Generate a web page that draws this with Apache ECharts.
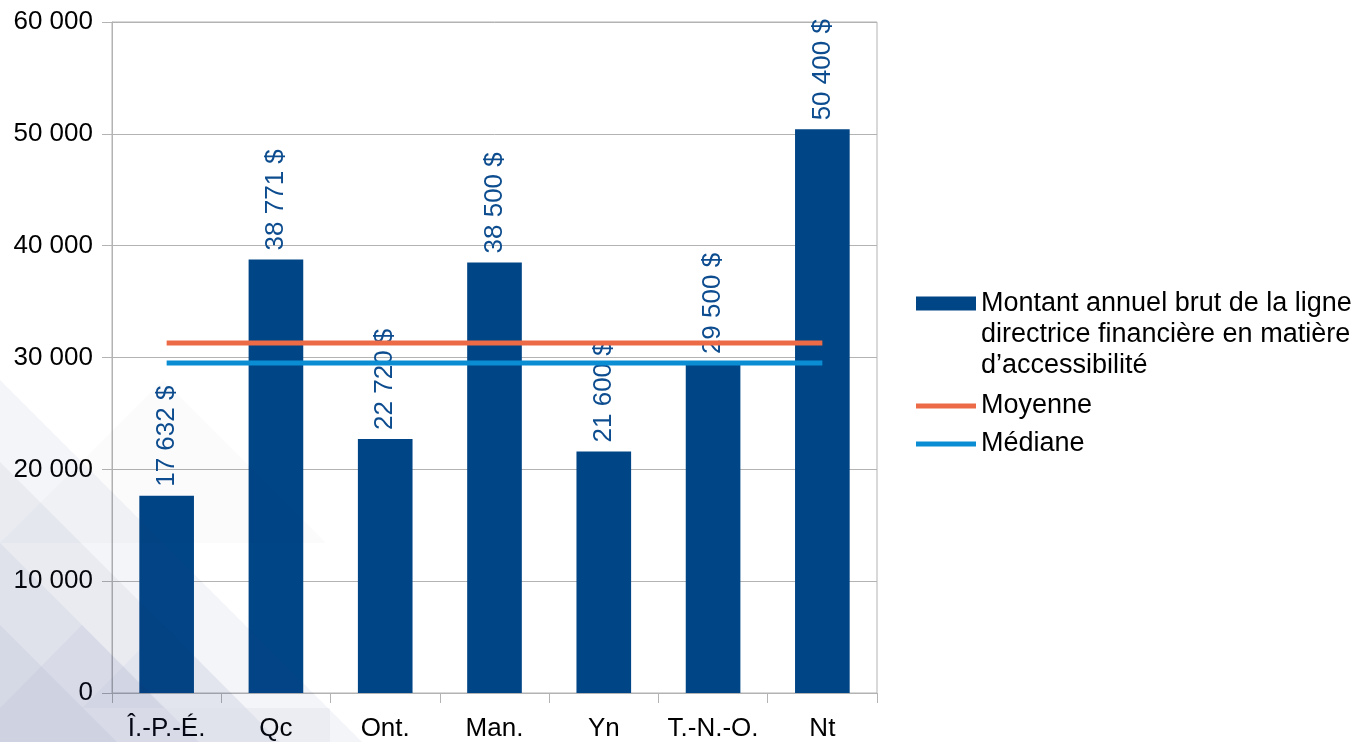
<!DOCTYPE html>
<html>
<head>
<meta charset="utf-8">
<script src="https://cdn.jsdelivr.net/npm/echarts@6/dist/echarts.min.js"></script>
<style>
  html, body { margin: 0; padding: 0; background: #fff; }
  #chart { width: 1370px; height: 742px; }
</style>
</head>
<body>
<div id="chart"></div>
<script>
// données
const provinces = ['Î.-P.-É.', 'Qc', 'Ont.', 'Man.', 'Yn', 'T.-N.-O.', 'Nt'];
const montants = [17632, 38771, 22720, 38500, 21600, 29500, 50400];
const moyenne = [31303, 31303, 31303, 31303, 31303, 31303, 31303];
const mediane = [29500, 29500, 29500, 29500, 29500, 29500, 29500];

const nomBarres = 'Montant annuel brut de la ligne directrice financière en matière d’accessibilité';
// deux lignes vides devant pour aligner l'icône sur la 1re ligne
const legendeBarres = '\n\nMontant annuel brut de la ligne\ndirectrice financière en matière\nd’accessibilité';

const FONT = 'Liberation Sans, Arial, sans-serif';
const GRIS = '#b3b3b3';

// séparateur de milliers avec espace
const fmt = (v) => String(v).replace(/\B(?=(\d{3})+(?!\d))/g, ' ');

const chart = echarts.init(document.getElementById('chart'));

// motif décoratif de triangles en bas à gauche
const tri = (pts, op) => ({
  type: 'polygon',
  silent: true,
  z: 100,
  shape: { points: pts },
  style: { fill: 'rgba(40, 50, 120, ' + op + ')' }
});

const option = {
  animation: false,
  grid: {
    left: 112, right: 493, top: 22, bottom: 49,
    show: true, borderColor: GRIS, borderWidth: 1, backgroundColor: 'transparent'
  },
  legend: [
    {
      data: [nomBarres], left: 916, top: 226, padding: 0,
      icon: 'rect', itemWidth: 60, itemHeight: 14,
      formatter: () => legendeBarres,
      textStyle: { fontFamily: FONT, fontSize: 27, color: '#000', lineHeight: 31 }
    },
    {
      data: ['Moyenne'], left: 916, top: 391, padding: 0,
      icon: 'rect', itemWidth: 60, itemHeight: 5,
      textStyle: { fontFamily: FONT, fontSize: 27, color: '#000', lineHeight: 30 }
    },
    {
      data: ['Médiane'], left: 916, top: 429, padding: 0,
      icon: 'rect', itemWidth: 60, itemHeight: 5,
      textStyle: { fontFamily: FONT, fontSize: 27, color: '#000', lineHeight: 30 }
    }
  ],
  xAxis: {
    type: 'category',
    data: provinces,
    axisLine: { lineStyle: { color: GRIS } },
    axisTick: { show: true, length: 10, lineStyle: { color: GRIS } },
    axisLabel: { fontFamily: FONT, fontSize: 26, color: '#000', margin: 23, interval: 0 }
  },
  yAxis: {
    type: 'value',
    min: 0, max: 60000, interval: 10000,
    axisLine: { show: true, lineStyle: { color: GRIS } },
    axisTick: { show: true, length: 10, lineStyle: { color: GRIS } },
    splitLine: { lineStyle: { color: GRIS } },
    axisLabel: { fontFamily: FONT, fontSize: 26, color: '#000', margin: 19, formatter: fmt }
  },
  series: [
    {
      name: nomBarres,
      type: 'bar',
      data: montants,
      barWidth: '50%',
      itemStyle: { color: '#004586' },
      label: {
        show: true,
        position: 'top',
        distance: 9,
        rotate: 90,
        align: 'left',
        verticalAlign: 'middle',
        fontFamily: FONT,
        fontSize: 26,
        color: '#0d4d8f',
        formatter: (p) => fmt(p.value) + ' $'
      }
    },
    {
      name: 'Moyenne',
      type: 'line',
      data: moyenne,
      symbol: 'none',
      color: '#ed6a46',
      lineStyle: { width: 5, color: '#ed6a46' },
      z: 5
    },
    {
      name: 'Médiane',
      type: 'line',
      data: mediane,
      symbol: 'none',
      color: '#0a8dd3',
      lineStyle: { width: 5, color: '#0a8dd3' },
      z: 5
    }
  ],
  graphic: [
    tri([[0, 380], [362, 742], [0, 742]], 0.05),
    tri([[0, 462], [280, 742], [0, 742]], 0.05),
    tri([[0, 543], [199, 742], [0, 742]], 0.05),
    tri([[0, 625], [117, 742], [0, 742]], 0.05),
    tri([[0, 543], [163, 380], [326, 543]], 0.02),
    tri([[0, 708], [82, 625], [164, 708]], 0.04),
    tri([[82, 708], [164, 625], [246, 708]], 0.03),
    { type: 'rect', silent: true, z: 100, shape: { x: 0, y: 708, width: 330, height: 34 },
      style: { fill: 'rgba(40, 50, 120, 0.04)' } }
  ]
};

chart.setOption(option);
</script>
</body>
</html>
